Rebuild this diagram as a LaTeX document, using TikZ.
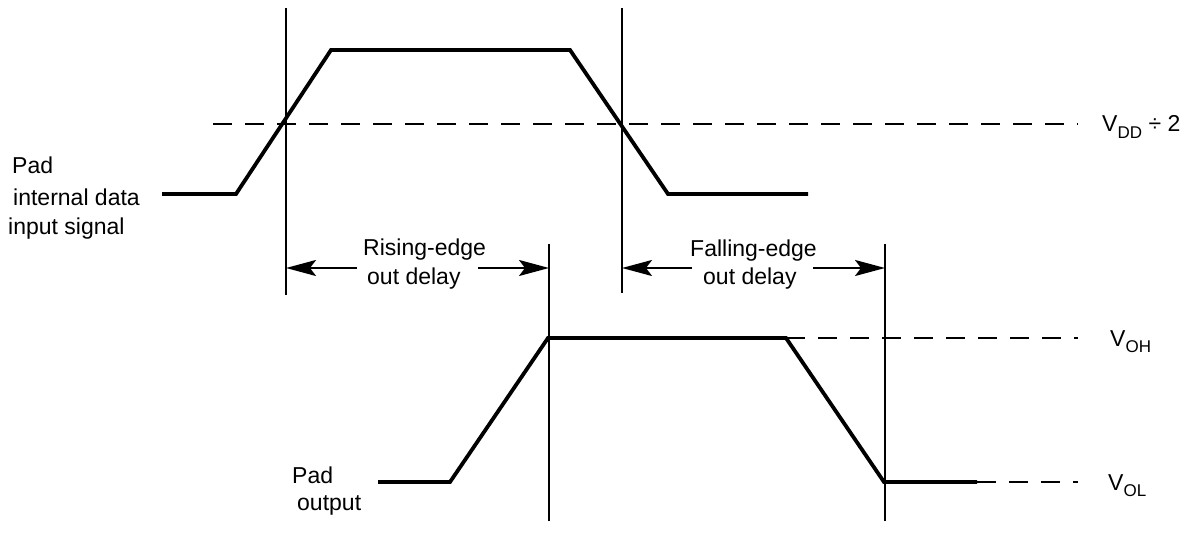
\documentclass[tikz,border=0pt]{standalone}
\usepackage{fontspec}
\setmainfont{Liberation Sans}
\usetikzlibrary{arrows.meta}
\newcommand{\sbs}[1]{\raisebox{-0.3em}{\fontsize{17}{17}\selectfont #1}}
\begin{document}
\begin{tikzpicture}[x=1pt,y=-1pt,
  lbl/.style={inner sep=0pt, anchor=base west, font=\fontsize{23}{23}\selectfont},
  sig/.style={line width=3.8pt},
  vline/.style={line width=2pt},
  refline/.style={line width=2pt, dash pattern=on 19pt off 13pt},
  dim/.style={line width=2pt, -{Stealth[length=30pt,width=16pt,inset=6pt]}}]
\useasboundingbox (0,0) rectangle (1190,534);
% input signal
\coordinate (t1) at (162,194);
\coordinate (t2) at (236,194);
\coordinate (t3) at (331,50);
\coordinate (t4) at (570,50);
\coordinate (t5) at (668,194);
\coordinate (t6) at (808,194);
\draw[sig] (t1) -- (t2) -- (t3) -- (t4) -- (t5) -- (t6);
% output signal
\coordinate (b1) at (378,482);
\coordinate (b2) at (450,482);
\coordinate (b3) at (548,338);
\coordinate (b4) at (786,338);
\coordinate (b5) at (884,482);
\coordinate (b6) at (977,482);
\draw[sig] (b1) -- (b2) -- (b3) -- (b4) -- (b5) -- (b6);
% vertical markers
\coordinate (v1a) at (286,8);   \coordinate (v1b) at (286,295);
\coordinate (v2a) at (622,8);   \coordinate (v2b) at (622,293);
\coordinate (v3a) at (549,244); \coordinate (v3b) at (549,521);
\coordinate (v4a) at (885,244); \coordinate (v4b) at (885,521);
\draw[vline] (v1a) -- (v1b);
\draw[vline] (v2a) -- (v2b);
\draw[vline] (v3a) -- (v3b);
\draw[vline] (v4a) -- (v4b);
% reference levels
\coordinate (d1) at (213,124);  \coordinate (d2) at (1078,124);
\coordinate (oh) at (1078,338);
\coordinate (ol) at (1078,482);
\draw[refline] (d1) -- (d2);
\draw[refline] (b4) -- (oh);
\draw[refline] (b6) -- (ol);
\node[lbl] (vdd) at (1102,132) {V\sbs{DD} ÷ 2};
\node[lbl] (voh) at (1110,346) {V\sbs{OH}};
\node[lbl] (vol) at (1108,490) {V\sbs{OL}};
% delay arrows
\coordinate (r0) at (286,268); \coordinate (r1) at (357,268);
\coordinate (r2) at (478,268); \coordinate (r3) at (549,268);
\coordinate (f0) at (622,268); \coordinate (f1) at (692,268);
\coordinate (f2) at (813,268); \coordinate (f3) at (885,268);
\draw[dim] (r1) -- (r0);
\draw[dim] (r2) -- (r3);
\draw[dim] (f1) -- (f0);
\draw[dim] (f2) -- (f3);
\node[lbl] (rise1) at (363,256) {Rising-edge};
\node[lbl] (rise2) at (367,285) {out delay};
\node[lbl] (fall1) at (690,257) {Falling-edge};
\node[lbl] (fall2) at (703,285) {out delay};
% signal labels
\node[lbl] (in1) at (12,174) {Pad};
\node[lbl] (in2) at (13,206) {internal data};
\node[lbl] (in3) at (8,235) {input signal};
\node[lbl] (out1) at (292,483) {Pad};
\node[lbl] (out2) at (297,510) {output};
\end{tikzpicture}
\end{document}
